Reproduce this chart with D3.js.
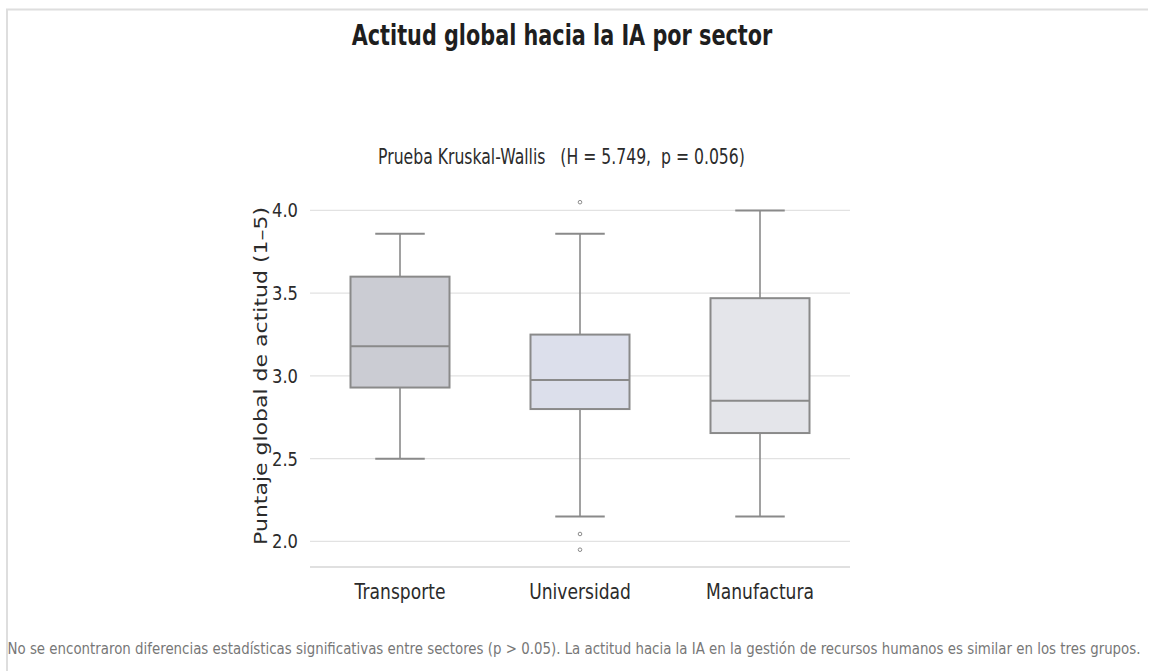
<!DOCTYPE html>
<html>
<head>
<meta charset="utf-8">
<script src="https://cdn.jsdelivr.net/npm/d3@7"></script>
<style>
  html, body { margin: 0; padding: 0; background: #fff; }
  svg { display: block; }
  text { font-family: "DejaVu Sans", sans-serif; white-space: pre; }
</style>
</head>
<body>
<svg id="chart" width="1149" height="671"></svg>
<script>
// Sector names and their box-plot summaries (attitude score, 1–5 scale)
const sectors = ["Transporte", "Universidad", "Manufactura"];
const whiskerLow = [2.50, 2.15, 2.15];
const q1 = [2.93, 2.80, 2.655];
const median = [3.18, 2.975, 2.85];
const q3 = [3.60, 3.25, 3.47];
const whiskerHigh = [3.86, 3.86, 4.00];
const outliers = [[], [4.05, 2.045, 1.95], []];
const boxFills = ["#cbccd3", "#dcdfeb", "#e4e5ea"];
const yTicks = [2.0, 2.5, 3.0, 3.5, 4.0];

const titleText = "Actitud global hacia la IA por sector";
const subtitleText = "Prueba Kruskal-Wallis   (H = 5.749,  p = 0.056)";
const yLabelText = "Puntaje global de actitud (1–5)";
const footnoteText = "No se encontraron diferencias estadísticas significativas entre sectores (p > 0.05). La actitud hacia la IA en la gestión de recursos humanos es similar en los tres grupos.";

// Horizontal text is drawn narrow: squeeze each label by a factor of its natural width
function narrow(factor) {
  return sel => sel.each(function () {
    const w = this.getComputedTextLength();
    d3.select(this)
      .attr("textLength", w * factor)
      .attr("lengthAdjust", "spacingAndGlyphs");
  });
}

const svg = d3.select("#chart");

// Thin page frame (top and left edges)
svg.append("path")
  .attr("d", "M7,671 V9.5 H1148")
  .attr("fill", "none")
  .attr("stroke", "#dedede")
  .attr("stroke-width", 2);

const plot = { left: 310, right: 850, top: 195, bottom: 567 };

const x = d3.scaleBand()
  .domain(sectors)
  .range([plot.left, plot.right])
  .paddingInner(0).paddingOuter(0);

const y = d3.scaleLinear()
  .domain([1.8455, 4.0935])
  .range([plot.bottom, plot.top]);

// Horizontal gridlines
svg.append("g")
  .selectAll("line")
  .data(yTicks)
  .join("line")
  .attr("x1", plot.left).attr("x2", plot.right)
  .attr("y1", d => y(d)).attr("y2", d => y(d))
  .attr("stroke", "#e2e2e2")
  .attr("stroke-width", 1.2);

// Y axis tick labels
const yAxis = d3.axisLeft(y).tickValues(yTicks).tickFormat(d3.format(".1f")).tickSize(0).tickPadding(12);
const yg = svg.append("g").attr("transform", `translate(${plot.left},0)`).call(yAxis);
yg.select(".domain").remove();
yg.selectAll("text")
  .attr("font-family", null)
  .attr("font-size", 19)
  .attr("dy", "0.34em")
  .attr("fill", "#2b2b2b")
  .call(narrow(0.86));

// Bottom spine
svg.append("line")
  .attr("x1", plot.left).attr("x2", plot.right)
  .attr("y1", plot.bottom).attr("y2", plot.bottom)
  .attr("stroke", "#d6d6d6")
  .attr("stroke-width", 1.5);

// X axis category labels
const xAxis = d3.axisBottom(x).tickSize(0).tickPadding(17);
const xg = svg.append("g").attr("transform", `translate(0,${plot.bottom})`).call(xAxis);
xg.select(".domain").remove();
xg.selectAll("text")
  .attr("font-family", null)
  .attr("font-size", 20.5)
  .attr("fill", "#2b2b2b")
  .call(narrow(0.835));

// Boxes
const boxW = x.bandwidth() * 0.55;
const capW = boxW * 0.5;
const stroke = "#8a8a8a";
const groups = svg.append("g")
  .selectAll("g")
  .data(sectors)
  .join("g")
  .attr("transform", d => `translate(${x(d) + x.bandwidth() / 2},0)`);

groups.append("line")
  .attr("x1", 0).attr("x2", 0)
  .attr("y1", (d, i) => y(whiskerHigh[i])).attr("y2", (d, i) => y(q3[i]))
  .attr("stroke", stroke).attr("stroke-width", 1.6);
groups.append("line")
  .attr("x1", 0).attr("x2", 0)
  .attr("y1", (d, i) => y(q1[i])).attr("y2", (d, i) => y(whiskerLow[i]))
  .attr("stroke", stroke).attr("stroke-width", 1.6);
groups.append("line")
  .attr("x1", -capW / 2).attr("x2", capW / 2)
  .attr("y1", (d, i) => y(whiskerHigh[i])).attr("y2", (d, i) => y(whiskerHigh[i]))
  .attr("stroke", stroke).attr("stroke-width", 2);
groups.append("line")
  .attr("x1", -capW / 2).attr("x2", capW / 2)
  .attr("y1", (d, i) => y(whiskerLow[i])).attr("y2", (d, i) => y(whiskerLow[i]))
  .attr("stroke", stroke).attr("stroke-width", 2);
groups.append("rect")
  .attr("x", -boxW / 2).attr("width", boxW)
  .attr("y", (d, i) => y(q3[i]))
  .attr("height", (d, i) => y(q1[i]) - y(q3[i]))
  .attr("fill", (d, i) => boxFills[i])
  .attr("stroke", stroke).attr("stroke-width", 2);
groups.append("line")
  .attr("x1", -boxW / 2).attr("x2", boxW / 2)
  .attr("y1", (d, i) => y(median[i])).attr("y2", (d, i) => y(median[i]))
  .attr("stroke", stroke).attr("stroke-width", 2);
groups.each(function (d, i) {
  d3.select(this).selectAll("circle")
    .data(outliers[i])
    .join("circle")
    .attr("cx", 0).attr("cy", v => y(v))
    .attr("r", 1.8)
    .attr("fill", "none")
    .attr("stroke", "#8a8a8a")
    .attr("stroke-width", 1);
});

// Y axis title (reads bottom to top, thin across)
svg.append("text")
  .attr("transform", `translate(267,${(y(2.0) + y(4.0)) / 2}) scale(0.77,1) rotate(-90)`)
  .attr("text-anchor", "middle")
  .attr("font-size", 22)
  .attr("fill", "#2b2b2b")
  .text(yLabelText);

// Title, subtitle, footnote
svg.append("text")
  .attr("x", 562).attr("y", 45)
  .attr("text-anchor", "middle")
  .attr("font-size", 28)
  .attr("font-weight", "bold")
  .attr("fill", "#1e1e1e")
  .text(titleText)
  .call(narrow(0.742));

svg.append("text")
  .attr("x", 561.5).attr("y", 164)
  .attr("text-anchor", "middle")
  .attr("font-size", 21)
  .attr("fill", "#2b2b2b")
  .text(subtitleText)
  .call(narrow(0.745));

svg.append("text")
  .attr("x", 574).attr("y", 654)
  .attr("text-anchor", "middle")
  .attr("font-size", 16.5)
  .attr("fill", "#777")
  .text(footnoteText)
  .call(narrow(0.81));
</script>
</body>
</html>
